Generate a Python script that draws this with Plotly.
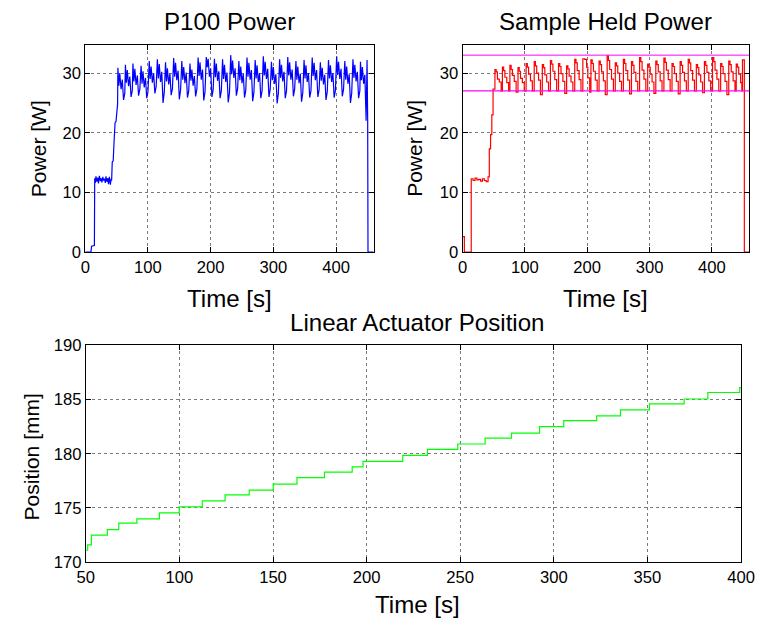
import plotly.graph_objects as go

# ---------------- data ----------------
# P100 power (blue), time [s] and power [W]
blue_t = [0, 9, 10, 14.5, 15, 16, 17, 18.5, 20, 21, 22.5, 24, 25, 26.5, 28, 29, 30.5, 32, 33, 34.5, 36, 37, 38.5, 40, 41, 42, 43, 44.5, 46, 47.5, 49, 50.5, 51.5,
          52, 53.5, 55, 57, 59, 61, 63,
          64, 65.5, 67, 69, 71, 73, 75,
          76, 77.5, 79, 81, 83, 85, 87,
          89, 90.5, 92, 94, 96, 98, 100,
          102, 103.5, 105, 107, 109, 111, 113,
          115, 116.5, 118, 120, 122, 124, 126,
          128, 129.5, 131, 133, 135, 137, 139,
          141, 142.5, 144, 146, 148, 150, 152,
          154, 155.5, 157, 159, 161, 163, 165,
          167, 168.5, 170, 172, 174, 176, 178,
          180, 181.5, 183, 185, 187, 189, 191,
          193, 194.5, 196, 198, 200, 202, 204,
          206, 207.5, 209, 211, 213, 215, 217,
          219, 220.5, 222, 224, 226, 228, 230,
          232, 233.5, 235, 237, 239, 241, 243,
          245, 246.5, 248, 250, 252, 254, 256,
          258, 259.5, 261, 263, 265, 267, 269,
          271, 272.5, 274, 276, 278, 280, 282,
          284, 285.5, 287, 289, 291, 293, 295,
          297, 298.5, 300, 302, 304, 306, 308,
          310, 311.5, 313, 315, 317, 319, 321,
          323, 324.5, 326, 328, 330, 332, 334,
          336, 337.5, 339, 341, 343, 345, 347,
          349, 350.5, 352, 354, 356, 358, 360,
          362, 363.5, 365, 367, 369, 371, 373,
          375, 376.5, 378, 380, 382, 384, 386,
          388, 389.5, 391, 393, 395, 397, 399,
          401, 402.5, 404, 406, 408, 410, 412,
          414, 415.5, 417, 419, 421, 423, 425,
          427, 428.5, 430, 432, 434, 436, 438,
          439, 440.5, 442, 444, 446, 447, 448,
          449.5, 450.5, 451, 460]
blue_p = [0, 0, 1.0, 1.1, 12.4, 11.6, 12.7, 11.8, 12.5, 11.5, 12.8, 11.9, 12.4, 11.7, 12.6, 12.0, 12.3, 11.6, 12.7, 11.8, 12.4, 11.4, 12.6, 11.3, 12.2, 12.0, 15.1, 15.3, 18.7, 21.7, 21.9, 24.5, 24.8,
          30.9, 27.9, 30.0, 27.3, 28.9, 25.5, 26.6,
          31.4, 28.4, 30.5, 27.8, 29.4, 26.0, 27.1,
          31.6, 28.6, 30.7, 28.0, 29.6, 26.2, 27.3,
          31.2, 28.2, 30.3, 27.6, 29.2, 25.8, 26.9,
          32.0, 29.0, 31.1, 28.4, 30.0, 26.6, 27.7,
          32.3, 29.1, 31.5, 28.5, 30.2, 25.0, 26.8,
          31.8, 28.6, 30.8, 28.1, 29.9, 26.3, 27.4,
          32.5, 29.4, 31.7, 28.8, 30.4, 25.6, 27.2,
          32.0, 28.9, 31.0, 28.3, 30.1, 25.9, 27.0,
          31.6, 28.7, 30.6, 27.9, 29.5, 26.1, 27.3,
          32.6, 29.5, 31.8, 28.9, 30.6, 25.4, 26.9,
          32.7, 31.0, 32.4, 29.4, 30.8, 26.0, 27.2,
          32.4, 29.3, 31.6, 28.7, 30.3, 25.8, 27.0,
          32.3, 29.0, 31.4, 28.5, 30.1, 25.1, 26.7,
          33.0, 29.8, 32.1, 29.2, 30.8, 26.2, 27.4,
          32.0, 28.8, 31.1, 28.3, 29.9, 25.9, 27.1,
          32.6, 29.4, 31.7, 28.9, 30.5, 25.3, 26.8,
          32.2, 29.1, 31.3, 28.5, 30.0, 25.8, 27.0,
          32.8, 29.6, 31.9, 29.0, 30.7, 26.0, 27.3,
          31.9, 28.8, 31.0, 28.2, 29.8, 24.9, 26.6,
          32.3, 29.2, 31.4, 28.6, 30.2, 25.8, 27.0,
          32.7, 29.6, 31.8, 28.9, 30.6, 26.1, 27.3,
          32.0, 28.9, 31.1, 28.3, 29.9, 25.2, 26.7,
          32.2, 29.1, 31.3, 28.5, 30.0, 25.9, 27.0,
          32.6, 29.5, 31.7, 28.8, 30.5, 26.0, 27.2,
          31.8, 28.7, 30.9, 28.1, 29.7, 25.5, 26.9,
          32.2, 29.1, 31.3, 28.5, 30.0, 25.9, 27.1,
          32.8, 29.7, 31.9, 29.0, 30.7, 26.1, 27.3,
          32.0, 28.9, 31.1, 28.2, 29.8, 25.0, 26.6,
          32.3, 29.2, 31.4, 28.6, 30.2, 25.8, 27.0,
          31.9, 28.8, 31.0, 28.2, 29.7, 25.6, 22.0,
          32.2, 22.0, 0.0, 0.0]

# Sample held power (red)
red_t = [0, 3, 14, 17, 20, 23, 26, 29, 32, 35, 38, 41, 43, 45, 47, 49,
         52, 54, 56, 59, 62,
         64, 66, 68, 71, 74,
         76, 78, 80, 83, 86,
         89, 91, 93, 96, 99,
         102, 104, 106, 109, 112,
         115, 117, 119, 122, 125,
         128, 130, 132, 135, 138,
         141, 143, 145, 148, 151,
         154, 156, 158, 161, 164,
         167, 169, 171, 174, 177,
         180, 182, 184, 187, 190,
         193, 196, 199, 201, 204,
         206, 208, 210, 213, 216,
         219, 221, 223, 226, 229,
         232, 234, 236, 239, 242,
         245, 247, 249, 252, 255,
         258, 260, 262, 265, 268,
         271, 273, 275, 278, 281,
         284, 286, 288, 291, 294,
         297, 299, 301, 304, 307,
         310, 312, 314, 317, 320,
         323, 325, 327, 330, 333,
         336, 338, 340, 343, 346,
         349, 351, 353, 356, 359,
         362, 364, 366, 369, 372,
         375, 377, 379, 382, 385,
         388, 390, 392, 395, 398,
         401, 403, 405, 408, 411,
         414, 416, 418, 421, 424,
         427, 429, 431, 434, 437,
         439, 441, 443, 446, 448,
         449, 452, 460]
red_p = [2.6, 0.0, 12.3, 12.0, 12.4, 12.1, 12.2, 11.9, 12.3, 12.0, 11.8, 12.6, 17.3, 19.7, 23.0, 27.3,
         30.6, 30.2, 29.0, 28.5, 27.0,
         31.0, 30.4, 29.3, 28.4, 27.0,
         31.3, 30.6, 29.6, 28.6, 26.8,
         30.9, 30.3, 29.1, 28.4, 27.0,
         31.6, 31.0, 29.8, 28.7, 27.0,
         31.9, 31.2, 30.0, 28.8, 26.4,
         31.4, 30.9, 29.7, 28.5, 27.0,
         32.1, 31.5, 30.3, 28.9, 27.0,
         31.6, 31.1, 29.9, 28.6, 26.6,
         31.2, 30.7, 29.5, 28.5, 27.0,
         32.3, 31.7, 30.4, 28.9, 27.0,
         32.4, 32.3, 31.0, 29.2, 26.8,
         32.2, 31.6, 30.3, 28.8, 27.0,
         32.0, 31.4, 30.2, 28.7, 26.4,
         32.9, 32.1, 30.6, 29.0, 27.0,
         31.7, 31.2, 30.0, 28.6, 27.0,
         32.3, 31.6, 30.4, 28.8, 26.5,
         31.9, 31.3, 30.1, 28.6, 27.0,
         32.6, 31.9, 30.5, 29.0, 27.0,
         31.5, 31.0, 29.8, 28.5, 26.6,
         32.0, 31.4, 30.2, 28.7, 27.0,
         32.5, 31.8, 30.5, 28.9, 27.0,
         31.6, 31.1, 29.9, 28.6, 26.5,
         31.9, 31.3, 30.1, 28.7, 27.0,
         32.3, 31.7, 30.4, 28.8, 27.0,
         31.4, 30.9, 29.7, 28.5, 26.7,
         31.9, 31.3, 30.1, 28.7, 27.0,
         32.6, 31.9, 30.5, 29.0, 27.0,
         31.6, 31.1, 29.9, 28.6, 26.4,
         32.0, 31.4, 30.2, 28.7, 27.0,
         31.5, 31.0, 29.8, 28.4, 27.0,
         32.2, 0.0, 0.0]

# Hold limits (magenta)
limit_t = [0, 460]
limit_hi = [33, 33]
limit_lo = [27, 27]

# Linear actuator position (green)
pos_t = [50, 51, 53, 61.5, 67.6, 77.3, 89.3, 99.9, 112.2, 124.4, 137.3, 150.1, 162.8, 177.5,
         192.3, 198.1, 219.3, 232.5, 248.7, 263.3, 277.4, 292.4, 305.3, 322.9, 335.6, 351.1,
         369.6, 382.3, 399.3, 400]
pos_v = [171.1, 171.6, 172.5, 173.0, 173.6, 174.0, 174.55, 175.1, 175.65, 176.2, 176.65, 177.2,
         177.8, 178.3, 178.8, 179.3, 179.85, 180.4, 180.9, 181.45, 181.9, 182.5, 183.05, 183.5,
         184.05, 184.6, 185.05, 185.65, 186.1, 186.1]

power_ticks = [0, 10, 20, 30]
time_ticks_top = [0, 100, 200, 300, 400]
pos_ticks = [170, 175, 180, 185, 190]
time_ticks_bottom = [50, 100, 150, 200, 250, 300, 350, 400]

# ---------------- figure ----------------
W, H = 767, 627
# measured placement of the figure on the captured page: screen = S * (K + figure_px)
S, K = 0.975, 8.0
CX = 0.007  # small extra horizontal stretch measured on the page
FONT = "Liberation Sans, Arial, Helvetica, sans-serif"


def fx(p):
    return (p / S - K + CX * (p - 85) / S) / W


def fy(p):
    return 1 - (p / S - K) / H


def fs(s):
    return s / S


fig = go.Figure()
fig.add_trace(go.Scatter(x=blue_t, y=blue_p, mode="lines",
                         line=dict(color="#0000FF", width=1.2), xaxis="x", yaxis="y"))
fig.add_trace(go.Scatter(x=red_t, y=red_p, mode="lines",
                         line=dict(color="#FF0000", width=1.2, shape="hv"), xaxis="x2", yaxis="y2"))
fig.add_trace(go.Scatter(x=limit_t, y=limit_hi, mode="lines",
                         line=dict(color="#FF00FF", width=1), xaxis="x2", yaxis="y2"))
fig.add_trace(go.Scatter(x=limit_t, y=limit_lo, mode="lines",
                         line=dict(color="#FF00FF", width=1.2), xaxis="x2", yaxis="y2"))
fig.add_trace(go.Scatter(x=pos_t, y=pos_v, mode="lines",
                         line=dict(color="#00FF00", width=1.2, shape="hv"), xaxis="x3", yaxis="y3"))

base = dict(showline=True, linecolor="black", linewidth=1, mirror="ticks",
            ticks="inside", ticklen=5, tickcolor="black", tickwidth=1,
            showgrid=True, gridcolor="#7a7a7a", griddash="dot", gridwidth=1,
            zeroline=False, ticklabeloverflow="allow",
            tickfont=dict(family=FONT, size=fs(16.2), color="black"))

top_y = [fy(252.3), fy(44)]
fig.update_layout(
    width=W, height=H,
    margin=dict(l=0, r=0, t=0, b=0),
    paper_bgcolor="white", plot_bgcolor="white",
    showlegend=False,
    xaxis=dict(base, domain=[fx(84.5), fx(372.3)], range=[0, 460], tickvals=time_ticks_top, anchor="y"),
    yaxis=dict(base, domain=top_y, range=[0, 34.7], tickvals=power_ticks, anchor="x"),
    xaxis2=dict(base, domain=[fx(461), fx(747.3)], range=[0, 460], tickvals=time_ticks_top, anchor="y2"),
    yaxis2=dict(base, domain=top_y, range=[0, 34.7], tickvals=power_ticks, anchor="x2"),
    xaxis3=dict(base, domain=[fx(85), fx(739)], range=[50, 400], tickvals=time_ticks_bottom, anchor="y3"),
    yaxis3=dict(base, domain=[fy(564), fy(346)], range=[170, 190], tickvals=pos_ticks, anchor="x3"),
)


def label(text, x, y, size, angle=0):
    fig.add_annotation(text=text, x=fx(x), y=fy(y), xref="paper", yref="paper",
                       xanchor="center", yanchor="middle", showarrow=False, textangle=angle,
                       font=dict(family=FONT, size=fs(size), color="black"))


label("P100 Power", 228, 20, 23.5)
label("Sample Held Power", 604, 20, 23.5)
label("Linear Actuator Position", 416, 323, 23.5)
label("Time [s]", 228, 299, 23.5)
label("Time [s]", 604, 299, 23.5)
label("Time [s]", 416, 607, 23.5)
label("Power [W]", 38, 148, 20.5, -90)
label("Power [W]", 413, 148, 20.5, -90)
label("Position [mm]", 31, 458, 20.5, -90)

fig.write_html("out.html", config={"displayModeBar": False},
               post_script="document.body.style.margin='0';")
